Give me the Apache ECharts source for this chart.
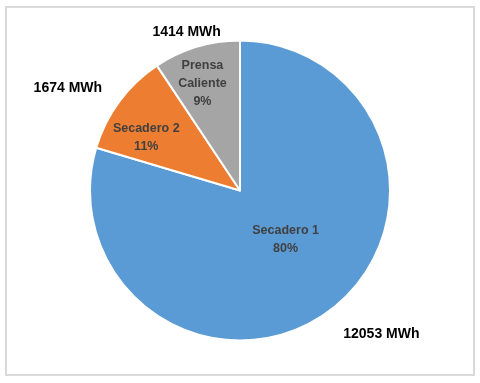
<!DOCTYPE html>
<html>
<head>
<meta charset="utf-8">
<script src="https://cdn.jsdelivr.net/npm/echarts@6/dist/echarts.min.js"></script>
<style>
html,body{margin:0;padding:0;background:#fff;}
#frame{position:absolute;left:5px;top:6px;width:466px;height:366px;border:2px solid #d9d9d9;}
#chart{position:absolute;left:0;top:0;width:480px;height:383px;}
</style>
</head>
<body>
<div id="frame"></div>
<div id="chart"></div>
<script>
const categories = ['Secadero 1', 'Secadero 2', 'Prensa Caliente'];
const values = [12053, 1674, 1414];
const unit = 'MWh';
const colors = ['#5B9BD5', '#ED7D31', '#A5A5A5'];

const insideOffsets = [[-1, -13], [-31, -7], [-15, -32]];
const outsideOffsets = [[29, -7], [-21, 9], [1, 22]];

const chart = echarts.init(document.getElementById('chart'), null, {renderer: 'canvas'});
const data = categories.map((c, i) => ({name: c, value: values[i], itemStyle: {color: colors[i]}}));
const font = '"Liberation Sans", Arial, sans-serif';

chart.setOption({
  animation: false,
  backgroundColor: 'transparent',
  series: [
    {
      type: 'pie',
      center: [240, 190.5],
      radius: [0, 150],
      startAngle: 90,
      clockwise: true,
      silent: true,
      itemStyle: {borderColor: '#ffffff', borderWidth: 2},
      label: {
        show: true,
        position: 'inside',
        fontFamily: font,
        fontWeight: 'bold',
        fontSize: 12.5,
        lineHeight: 18,
        color: '#404040',
        align: 'center',
        formatter: p => (p.name.length > 12 ? p.name.replace(' ', '\n') : p.name) + '\n' + Math.round(p.percent) + '%'
      },
      labelLine: {show: false},
      labelLayout: p => ({dx: insideOffsets[p.dataIndex][0], dy: insideOffsets[p.dataIndex][1]}),
      data: data
    },
    {
      type: 'pie',
      center: [240, 190.5],
      radius: [170, 200],
      startAngle: 90,
      clockwise: true,
      silent: true,
      itemStyle: {color: 'rgba(0,0,0,0)', borderWidth: 0},
      label: {
        show: true,
        position: 'inside',
        fontFamily: font,
        fontWeight: 'bold',
        fontSize: 14,
        color: '#000000',
        formatter: p => p.value + ' ' + unit
      },
      labelLine: {show: false},
      labelLayout: p => ({dx: outsideOffsets[p.dataIndex][0], dy: outsideOffsets[p.dataIndex][1]}),
      data: categories.map((c, i) => ({name: c, value: values[i]}))
    }
  ]
});
</script>
</body>
</html>
